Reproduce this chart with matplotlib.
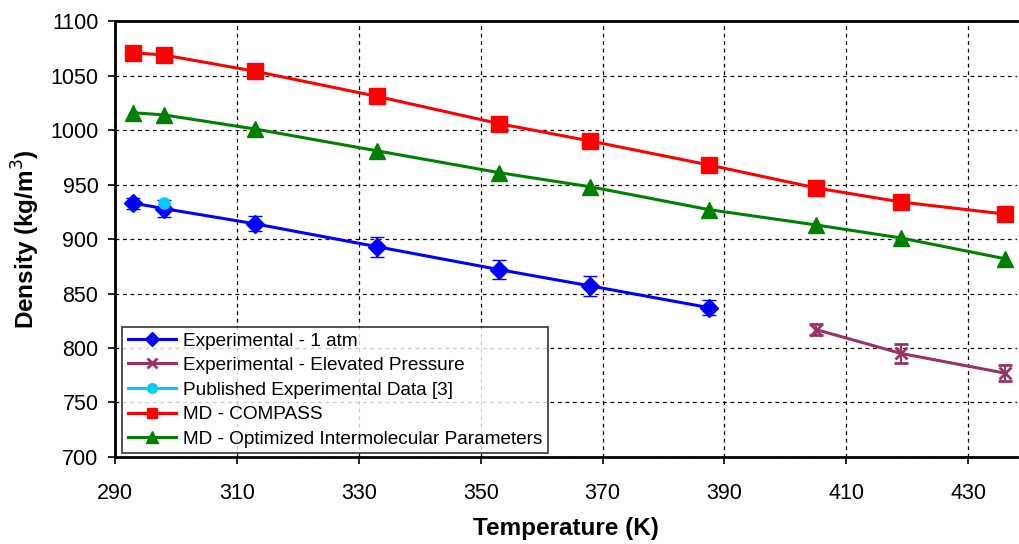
import matplotlib
matplotlib.use("Agg")
import matplotlib.pyplot as plt
from matplotlib.lines import Line2D

plt.rcParams['font.family'] = ['Liberation Sans', 'DejaVu Sans']

# Temperatures (K)
t_exp = [293, 298, 313, 333, 353, 368, 387.5]
t_pub = [298]
t_hp = [405, 419, 436]
t_md = [293, 298, 313, 333, 353, 368, 387.5, 405, 419, 436]

# Densities (kg/m^3)
rho_exp = [933, 928, 914, 893, 872, 857, 837]
err_exp = [5, 8, 7, 9, 9, 9, 7]
rho_pub = [933]
rho_hp = [817, 795, 777]
err_hp = [5, 9, 7]
rho_compass = [1071, 1069, 1054, 1031, 1006, 990, 968, 947, 934, 923]
rho_opt = [1016, 1014, 1001, 981, 961, 948, 927, 913, 901, 882]

labels = ["Experimental - 1 atm", "Experimental - Elevated Pressure",
          "Published Experimental Data [3]", "MD - COMPASS",
          "MD - Optimized Intermolecular Parameters"]

c_exp, c_hp, c_pub, c_cmp, c_opt = "#0000ff", "#993366", "#00ccff", "#ff0000", "#008000"

fig = plt.figure(figsize=(10.19, 5.44), dpi=100)
ax = fig.add_axes([0.113, 0.16, 0.885, 0.801])

ax.plot(t_md, rho_compass, color=c_cmp, marker="s", markersize=11.5, lw=2.2, zorder=3)
ax.plot(t_md, rho_opt, color=c_opt, marker="^", markersize=12, lw=2.2, zorder=3)
ax.errorbar(t_exp, rho_exp, yerr=err_exp, color=c_exp, marker="D",
            markersize=9, lw=2.2, capsize=5, elinewidth=1.5, zorder=4)
ax.errorbar(t_hp, rho_hp, yerr=err_hp, color=c_hp, marker="x",
            markersize=8, mew=2, lw=2.2, capsize=5, elinewidth=1.5, zorder=4)
ax.plot(t_pub, rho_pub, color=c_pub, marker="o", markersize=8, lw=2.2, zorder=5)

ax.set_xlim(290, 438)
ax.set_ylim(700, 1100)
ax.set_xticks(range(290, 431, 20))
ax.set_yticks(range(700, 1101, 50))
ax.tick_params(labelsize=15.5, direction="out", length=5, width=1.2)
ax.tick_params(axis="x", pad=14)
ax.tick_params(axis="y", pad=7)
ax.grid(True, color="black", linestyle=(0, (3, 3)), linewidth=0.9)
for s in ax.spines.values():
    s.set_linewidth(2)
ax.spines["right"].set_visible(False)

ax.set_xlabel("Temperature (K)", fontsize=17.5, fontweight="bold", labelpad=9)
ax.set_ylabel("Density (kg/m$^3$)", fontsize=17.5, fontweight="bold", labelpad=6)

handles = [
    Line2D([], [], color=c_exp, marker="D", markersize=7, lw=2.2),
    Line2D([], [], color=c_hp, marker="x", markersize=7, mew=2, lw=2.2),
    Line2D([], [], color=c_pub, marker="o", markersize=7, lw=2.2),
    Line2D([], [], color=c_cmp, marker="s", markersize=7, lw=2.2),
    Line2D([], [], color=c_opt, marker="^", markersize=8, lw=2.2),
]
leg = ax.legend(handles, labels, loc="lower left", bbox_to_anchor=(0.008, 0.008),
                fontsize=13.7, frameon=True, fancybox=False, edgecolor="black",
                borderpad=0.3, handlelength=2.5, handletextpad=0.4,
                labelspacing=0.38, borderaxespad=0)
leg.get_frame().set_linewidth(1.2)

fig.savefig("out.png", dpi=100, facecolor="white")
